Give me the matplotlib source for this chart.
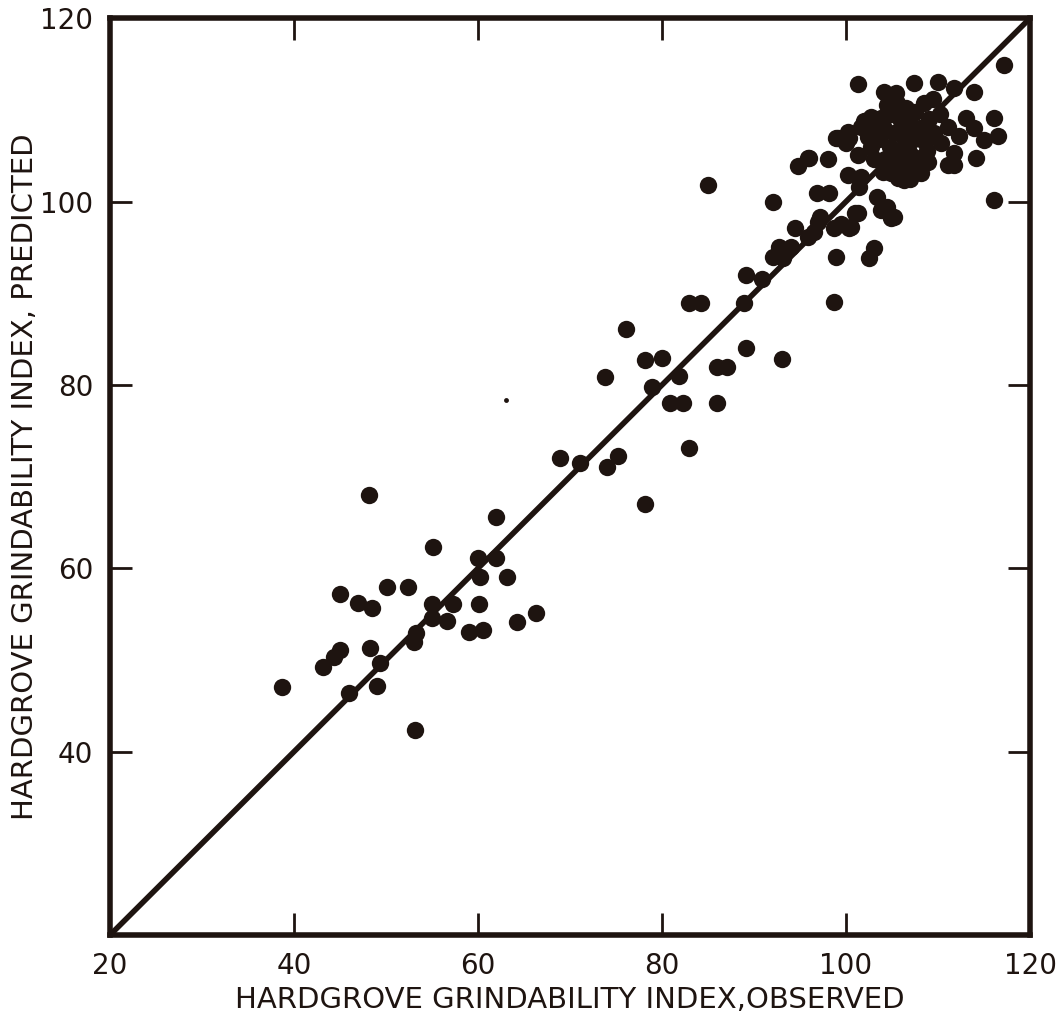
import numpy as np
import matplotlib.pyplot as plt

# observed vs predicted Hardgrove grindability index
obs_low = [38.7, 43.2, 44.3, 45.0, 45.0, 46.0, 46.9, 48.2, 48.3, 48.5, 49.0, 49.3,
           50.1, 52.4, 53.0, 53.2, 53.3, 55.0, 55.0, 55.1, 56.6, 57.3, 59.0, 60.0,
           60.1, 60.2, 60.5, 62.0, 62.0, 63.2, 64.2, 66.3]
pred_low = [47.0, 49.2, 50.3, 51.1, 57.2, 46.4, 56.2, 68.0, 51.3, 55.7, 47.2, 49.7,
            58.0, 58.0, 52.0, 42.4, 52.9, 56.1, 54.6, 62.3, 54.2, 56.1, 53.0, 61.1,
            56.1, 59.0, 53.3, 65.6, 61.1, 59.1, 54.1, 55.1]

obs_mid = [68.9, 71.1, 74.0, 75.2, 73.8, 76.1, 78.1, 78.2, 78.9, 80.0, 80.9, 81.8,
           82.3, 82.9, 82.9, 84.2, 85.0, 86.0, 86.0, 87.1, 88.9, 89.1, 89.1, 90.9,
           93.0, 98.7]
pred_mid = [72.0, 71.5, 71.1, 72.2, 80.9, 86.1, 67.0, 82.7, 79.8, 82.9, 78.0, 81.0,
            78.0, 73.1, 88.9, 88.9, 101.8, 81.9, 78.0, 82.0, 88.9, 84.0, 92.0, 91.6,
            82.8, 89.0]

obs_high = [92.1, 92.1, 92.7, 93.2, 94.0, 94.5, 94.8, 95.9, 95.9, 96.0, 96.5, 96.8,
            96.9, 97.2, 98.0, 98.1, 98.7, 98.9, 98.9, 99.1, 99.4, 100.0, 100.2,
            100.2, 100.3, 100.3, 100.5, 101.0, 101.3, 101.3, 101.3, 101.4, 101.6,
            101.6, 102.5, 102.7, 102.7, 103.0, 103.4, 103.8, 103.8, 104.1, 104.5,
            104.9, 104.9, 105.2, 105.4, 105.9, 106.3, 106.7, 107.4, 108.1, 108.9,
            110.0, 110.3, 111.1, 111.1, 111.7, 111.7, 111.7, 112.3, 113.0, 113.9,
            113.9, 114.1, 115.0, 116.1, 116.1, 116.5, 117.2]
pred_high = [99.9, 93.9, 95.0, 93.8, 95.0, 97.1, 103.9, 104.7, 96.1, 104.8, 96.7,
             100.9, 97.8, 98.3, 104.6, 100.9, 97.1, 106.9, 93.9, 106.9, 97.6, 106.4,
             102.9, 107.6, 106.9, 97.1, 97.2, 98.8, 112.8, 105.1, 98.8, 101.6, 108.1,
             102.7, 93.8, 109.2, 105.9, 94.9, 100.5, 109.1, 99.1, 111.9, 99.4, 103.1,
             98.2, 98.3, 111.8, 104.0, 102.3, 105.6, 112.9, 103.1, 104.3, 113.0,
             106.4, 108.1, 104.0, 112.4, 105.3, 104.0, 107.2, 109.1, 111.9, 108.0,
             104.8, 106.7, 109.1, 100.2, 107.2, 114.9]

# the dense clump around 103-110
obs_core = [104.5, 105.5, 106.5, 107.5, 108.5, 109.5, 105.0, 106.0, 107.0, 108.0,
            109.0, 104.0, 105.2, 106.3, 107.4, 108.6, 103.6, 104.8, 105.8, 106.9,
            108.0, 104.2, 105.4, 106.5, 107.6, 108.8, 109.6, 110.2, 103.2, 104.0,
            105.6, 107.0, 102.4, 103.0, 102.0]
pred_core = [110.5, 110.8, 110.2, 109.8, 110.8, 111.2, 109.5, 108.8, 108.5, 108.0,
             109.0, 108.2, 107.5, 107.0, 106.8, 106.5, 106.8, 106.0, 105.6, 105.2,
             104.8, 104.6, 104.3, 103.8, 103.5, 105.5, 107.5, 109.5, 108.5, 103.2,
             102.6, 102.5, 107.0, 104.6, 108.8]

# small speck
obs_speck = [63.0]
pred_speck = [78.4]

x_ticks = [20, 40, 60, 80, 100, 120]
y_ticks = [40, 60, 80, 100, 120]

ink = '#1e1410'
plt.rcParams['font.family'] = 'DejaVu Sans'

fig = plt.figure(figsize=(10.64, 10.21), dpi=100)
ax = fig.add_axes([0.1034, 0.0842, 0.8647, 0.898])

ax.plot([20, 120], [20, 120], color=ink, lw=4, solid_capstyle='butt', zorder=2)

ms = 12.5
for xs, ys in [(obs_low, pred_low), (obs_mid, pred_mid), (obs_high, pred_high),
               (obs_core, pred_core)]:
    ax.plot(xs, ys, 'o', color=ink, ms=ms, mec='none', zorder=3)
ax.plot(obs_speck, pred_speck, 'o', color=ink, ms=3.5, mec='none', zorder=3)

ax.set_xlim(20, 120)
ax.set_ylim(20, 120)
ax.set_xticks(x_ticks)
ax.set_yticks(y_ticks)
ax.tick_params(direction='in', length=16, width=2, color=ink, labelcolor=ink,
               labelsize=20, top=True, right=True, pad=12)
for s in ax.spines.values():
    s.set_linewidth(4)
    s.set_color(ink)

ax.set_xlabel('HARDGROVE GRINDABILITY INDEX,OBSERVED', fontsize=21, color=ink)
ax.set_ylabel('HARDGROVE GRINDABILITY INDEX, PREDICTED', fontsize=21, color=ink)
ax.xaxis.set_label_coords(0.5, -0.071)
ax.yaxis.set_label_coords(-0.092, 0.5)
ax.xaxis.label.set_va('center')
ax.yaxis.label.set_va('center')

fig.savefig('out.png', dpi=100)
